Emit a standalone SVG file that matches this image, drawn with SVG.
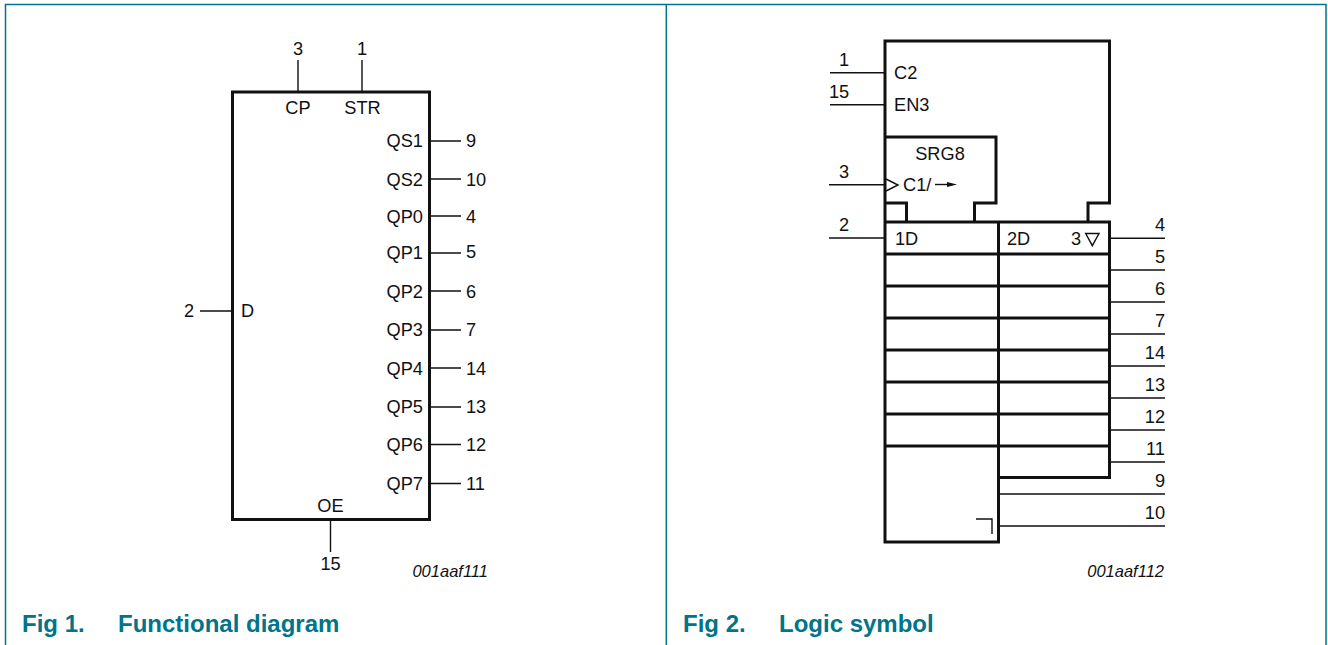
<svg xmlns="http://www.w3.org/2000/svg" width="1328" height="645" viewBox="0 0 1328 645">
<style>
text{font-family:"Liberation Sans",Arial,sans-serif;font-size:18.2px;fill:#111}
.m{text-anchor:middle}.e{text-anchor:end}
.id{font-size:16.5px;font-style:italic}
.cap{font-size:24px;font-weight:700;fill:#00748a}
.b{fill:none;stroke:#111;stroke-width:3}
.p{fill:none;stroke:#111;stroke-width:1.4}
.f{fill:none;stroke:#00748a;stroke-width:1.5}
</style>
<rect width="1328" height="645" fill="#fff"/>
<path class="f" d="M5.500 645V4.500H1326V645M666.300 4.500V645"/>
<g id="fig1">
<rect id="f1-block" class="b" x="232.500" y="92" width="197" height="427.500"/>
<g id="f1-connectors">
<path class="p" d="M298 60V92M362 60V92M200 311H232M330.500 520V552"/>
<path class="p" d="M430 141H461M430 179H461M430 216H461M430 253H461M430 291H461M430 330H461M430 368H461M430 407H461M430 444.500H461M430 483.500H461"/>
</g>
<g id="f1-labels">
<text class="m" x="298" y="55">3</text><text class="m" x="362" y="55">1</text>
<text class="m" x="298" y="114">CP</text><text class="m" x="362.500" y="114">STR</text>
<text x="184" y="317">2</text><text x="241" y="317">D</text>
<text class="m" x="330.500" y="512">OE</text><text class="m" x="330.500" y="570">15</text>
<text class="e" x="423" y="147">QS1</text><text class="e" x="423" y="186">QS2</text><text class="e" x="423" y="223">QP0</text><text class="e" x="423" y="259">QP1</text><text class="e" x="423" y="298">QP2</text><text class="e" x="423" y="336">QP3</text><text class="e" x="423" y="375">QP4</text><text class="e" x="423" y="413">QP5</text><text class="e" x="423" y="451">QP6</text><text class="e" x="423" y="490">QP7</text>
<text x="466" y="147">9</text><text x="466" y="186">10</text><text x="466" y="223">4</text><text x="466" y="258">5</text><text x="466" y="298">6</text><text x="466" y="336">7</text><text x="466" y="375">14</text><text x="466" y="413">13</text><text x="466" y="451">12</text><text x="466" y="490">11</text>
<text class="id e" x="488" y="577">001aaf111</text>
<text class="cap" x="22" y="632">Fig 1.</text><text class="cap" x="118" y="632">Functional diagram</text>
</g>
</g>
<g id="fig2">
<path id="f2-control" class="b" d="M885 222V41H1109.500V203H1088V222"/>
<path id="f2-srg" class="b" d="M885 137H996V203H974.500V222M885 203H906.500V222"/>
<path id="f2-cells" class="b" d="M885 222H1109.500V477.500H998.500M885 222V542H998.500V222M885 254H1109.500M885 286H1109.500M885 318H1109.500M885 350H1109.500M885 382H1109.500M885 414H1109.500M885 446H1109.500"/>
<g id="f2-connectors">
<path class="p" d="M830 72.700H885M830 104.700H885M829 184.700H885M829 238H885"/>
<path class="p" d="M1110 238.300H1165M1110 270H1165M1110 302H1165M1110 334H1165M1110 366H1165M1110 398H1165M1110 430H1165M1110 462H1165M999 494H1165M999 526H1165"/>
<path class="p" d="M886 179L898 185L886 191M976 519H992V534"/>
<path class="p" d="M935 184.500H950"/><path fill="#111" d="M947 182L957 184.500L947 187Z"/>
<path class="p" d="M1085.700 233.500H1099L1092.300 245.700Z"/>
</g>
<g id="f2-labels">
<text x="839" y="66">1</text><text x="829" y="98">15</text><text x="839" y="178">3</text><text x="839" y="231">2</text>
<text x="894" y="79">C2</text><text x="894" y="111">EN3</text><text class="m" x="940" y="160">SRG8</text><text x="903" y="191">C1/</text>
<text x="895" y="245">1D</text><text x="1007" y="245">2D</text><text x="1071" y="245">3</text>
<text class="e" x="1165" y="231">4</text><text class="e" x="1165" y="263">5</text><text class="e" x="1165" y="295">6</text><text class="e" x="1165" y="327">7</text><text class="e" x="1165" y="359">14</text><text class="e" x="1165" y="391">13</text><text class="e" x="1165" y="423">12</text><text class="e" x="1165" y="455">11</text><text class="e" x="1165" y="487">9</text><text class="e" x="1165" y="519">10</text>
<text class="id e" x="1164" y="577">001aaf112</text>
<text class="cap" x="683" y="632">Fig 2.</text><text class="cap" x="779" y="632">Logic symbol</text>
</g>
</g>
</svg>
